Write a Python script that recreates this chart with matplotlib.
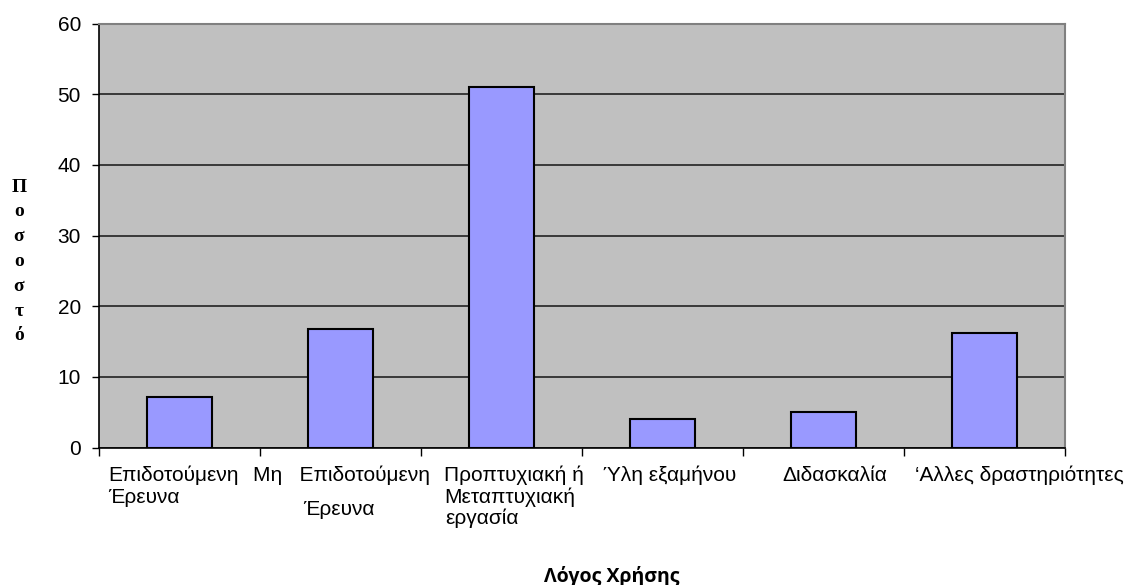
import matplotlib
matplotlib.use("Agg")
import matplotlib.pyplot as plt

categories = ["Επιδοτούμενη Έρευνα", "Μη Επιδοτούμενη Έρευνα",
              "Προπτυχιακή ή Μεταπτυχιακή εργασία", "Ύλη εξαμήνου",
              "Διδασκαλία", "‘Αλλες δραστηριότητες"]
values = [7.2, 16.7, 51.0, 4.0, 5.0, 16.2]
yticks = [0, 10, 20, 30, 40, 50, 60]
ylabel_chars = ["Π", "ο", "σ", "ο", "σ", "τ", "ό"]
xlabel = "Λόγος Χρήσης"

# label lines: (text, dx from category centre [px], baseline below axis [px])
label_lines = [
    [("Επιδοτούμενη", -71.5, 33.5), ("Έρευνα", -71.5, 55.5)],
    [("Μη   Επιδοτούμενη", -87.5, 33.5), ("Έρευνα", -37.5, 67.5)],
    [("Προπτυχιακή ή", -57.5, 33.5), ("Μεταπτυχιακή", -57.5, 55.5), ("εργασία", -56.5, 76.5)],
    [("Ύλη εξαμήνου", -59.5, 33.5)],
    [("Διδασκαλία", -41.5, 33.5)],
    [("‘Αλλες δραστηριότητες", -69.5, 33.5)],
]

W, H = 1131, 585
fig = plt.figure(figsize=(W / 100, H / 100), dpi=100)
ax = fig.add_axes([99 / W, (H - 447.5) / H, (1065 - 99) / W, 424 / H])
ax.set_facecolor("#C0C0C0")

x = list(range(len(categories)))
ax.bar(x, values, width=0.4, color="#9999FF", edgecolor="black", linewidth=1.5, zorder=3)

ax.set_xlim(-0.5, len(categories) - 0.5)
ax.set_ylim(0, 60)
ax.set_yticks(yticks)
ax.set_yticklabels([str(v) for v in yticks], fontsize=15, fontfamily="Liberation Sans")
ax.yaxis.grid(True, color="#222222", linewidth=1.2, zorder=1)
ax.set_axisbelow(True)

ax.set_xticks([i - 0.5 for i in range(len(categories) + 1)])
ax.set_xticklabels([])
ax.tick_params(axis="x", direction="out", length=6, width=1, color="black")
ax.tick_params(axis="y", direction="out", length=5, width=1, color="black", pad=8)

for s in ["top", "right"]:
    ax.spines[s].set_color("#808080")
    ax.spines[s].set_linewidth(1.5)
for s in ["left", "bottom"]:
    ax.spines[s].set_color("black")
    ax.spines[s].set_linewidth(1.2)

for i, lines in enumerate(label_lines):
    for txt, dx, dy in lines:
        ax.annotate(txt, xy=(i, 0), xycoords=("data", "axes fraction"),
                    xytext=(dx, -dy), textcoords="offset pixels",
                    ha="left", va="baseline", fontsize=15,
                    fontfamily="Liberation Sans", annotation_clip=False)

# stacked vertical y label
for k, ch in enumerate(ylabel_chars):
    fig.text(19 / W, 1 - (187 + 24.8 * k) / H, ch, ha="center", va="center",
             fontsize=14, fontweight="bold", fontfamily="Liberation Serif")

fig.text(612 / W, 1 - 582 / H, xlabel, ha="center", va="baseline",
         fontsize=14, fontweight="bold", fontfamily="Open Sans")

fig.savefig("out.png", dpi=100)
